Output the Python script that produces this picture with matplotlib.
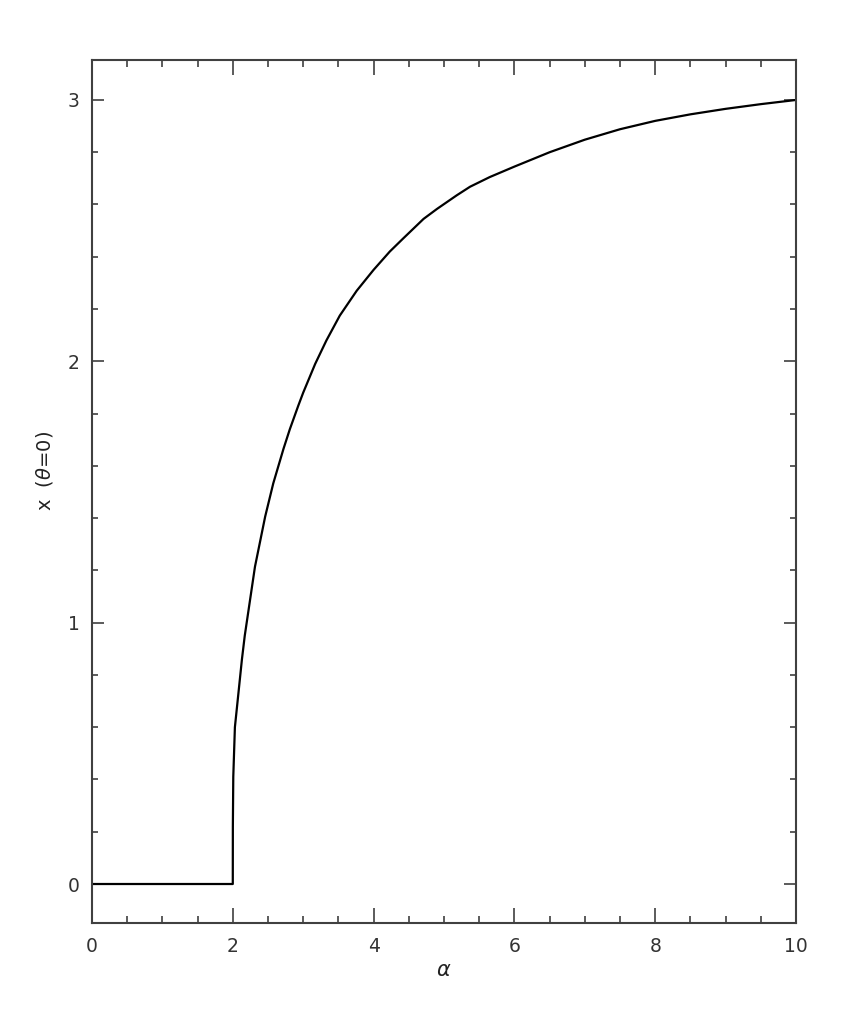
import matplotlib.pyplot as plt
from matplotlib.ticker import MultipleLocator

# values
alpha = [0.0, 1.0, 2.0, 2.001, 2.007, 2.03, 2.08, 2.13, 2.17, 2.315, 2.46, 2.575,
         2.72, 2.81, 2.93, 3.0, 3.17, 3.33, 3.52, 3.76, 4.0, 4.23, 4.42, 4.71,
         4.90, 5.18, 5.37, 5.65, 6.0, 6.5, 7.0, 7.5, 8.0, 8.5, 9.0, 9.5, 10.0]
x_theta0 = [0.0, 0.0, 0.0, 0.22, 0.41, 0.60, 0.73, 0.86, 0.95, 1.214, 1.406, 1.533,
            1.665, 1.74, 1.83, 1.88, 1.99, 2.08, 2.175, 2.27, 2.35, 2.42, 2.47, 2.545,
            2.583, 2.635, 2.668, 2.705, 2.745, 2.80, 2.848, 2.888, 2.92, 2.945, 2.966,
            2.984, 3.0]

x_ticks = [0, 2, 4, 6, 8, 10]
y_ticks = [0, 1, 2, 3]

plt.rcParams['font.family'] = ['DejaVu Sans']
plt.rcParams['mathtext.fontset'] = 'dejavusans'

fig = plt.figure(figsize=(8.43, 10.34), dpi=100)
ax = fig.add_axes([0.1091, 0.1074, 0.8352, 0.8346])

ax.plot(alpha, x_theta0, color='black', lw=1.6)

ax.set_xlim(0, 10)
ax.set_ylim(-0.149, 3.153)
ax.set_xticks(x_ticks)
ax.set_yticks(y_ticks)
ax.xaxis.set_minor_locator(MultipleLocator(0.5))
ax.yaxis.set_minor_locator(MultipleLocator(0.2))

gray = '#404040'
for s in ax.spines.values():
    s.set_color(gray)
    s.set_linewidth(1.5)

ax.tick_params(axis='both', which='both', direction='in', top=True, right=True,
               color=gray, width=1.2, labelsize=13.5, labelcolor='#333333')
ax.tick_params(axis='x', which='major', length=10.5, pad=10)
ax.tick_params(axis='x', which='minor', length=5)
ax.tick_params(axis='y', which='major', length=8.5, pad=9)
ax.tick_params(axis='y', which='minor', length=4.5)

ax.set_xlabel(r'$\alpha$', fontsize=15, color='#222222')
ax.set_ylabel(r'x  ($\theta$=0)', fontsize=14, color='#222222')
ax.xaxis.set_label_coords(0.5, -0.043)
ax.yaxis.set_label_coords(-0.053, 0.524)

fig.savefig('out.png', dpi=100)
